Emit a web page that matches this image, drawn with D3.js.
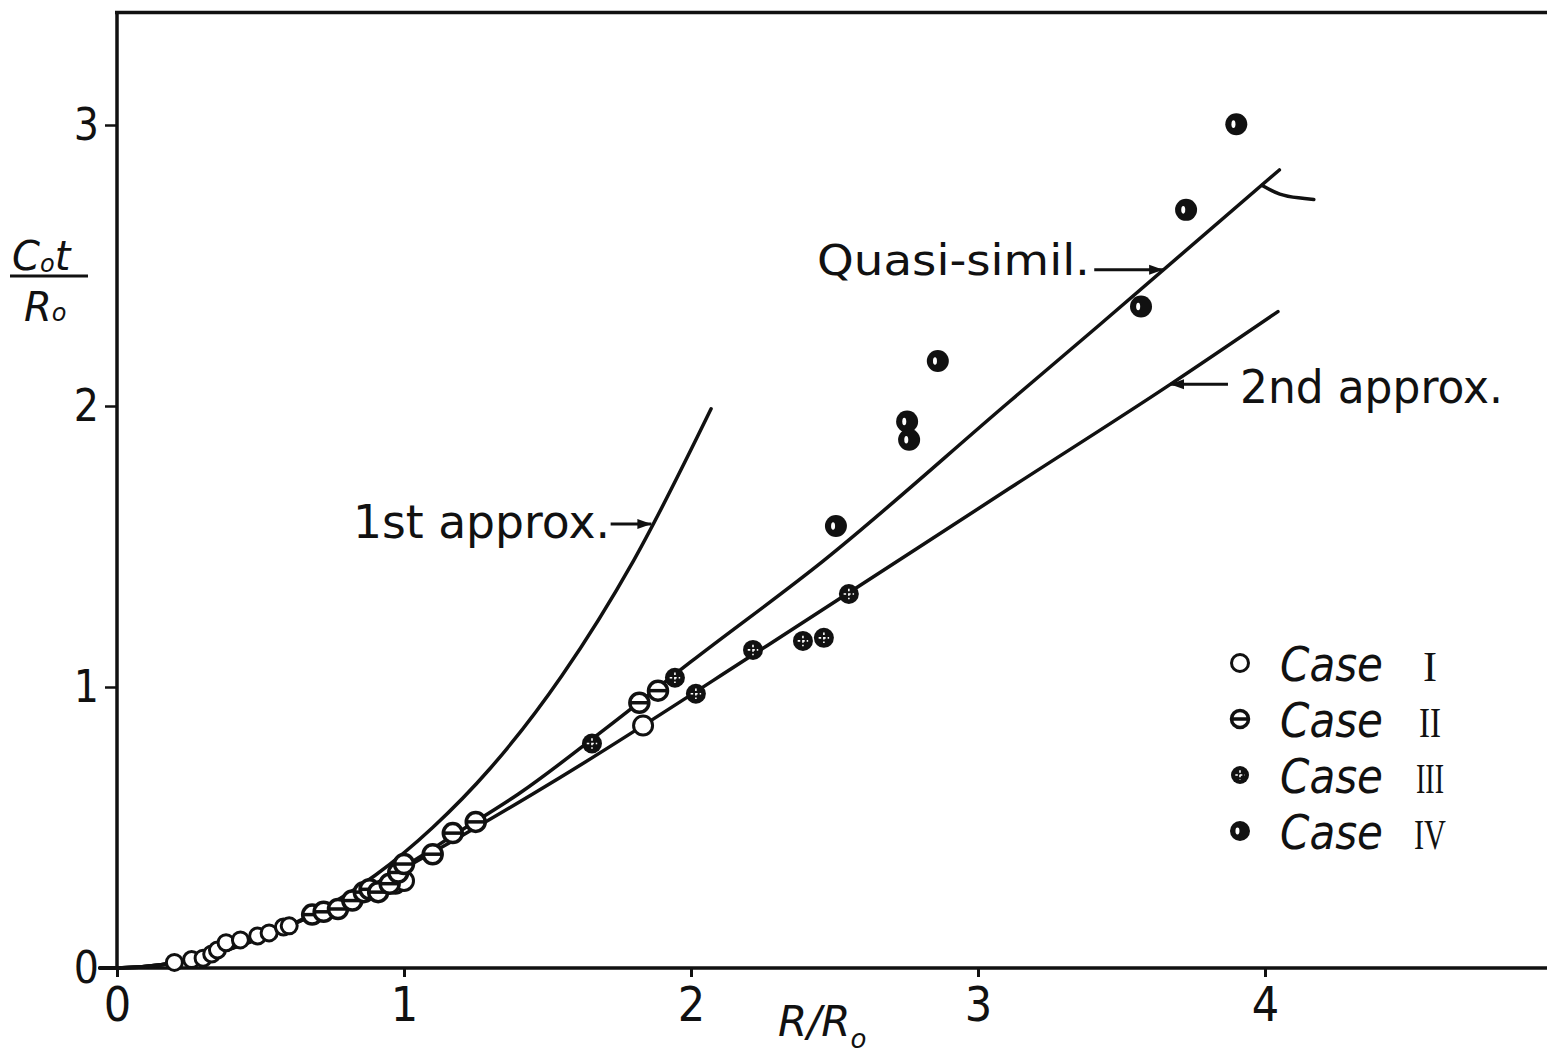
<!DOCTYPE html>
<html><head><meta charset="utf-8">
<script src="https://cdn.jsdelivr.net/npm/d3@7"></script>
<style>body{margin:0;background:#fff} svg{display:block}</style>
</head><body><svg id="c" width="1547" height="1057"></svg>
<script>
// ---- data ----
const xTickValues = [0, 1, 2, 3, 4];
const yTickValues = [0, 1, 2, 3];
const xTickLabels = ["0", "1", "2", "3", "4"];
const yTickLabels = ["0", "1", "2", "3"];

const caseI = [[0.20,0.02],[0.26,0.03],[0.30,0.035],[0.33,0.05],[0.35,0.064],[0.38,0.09],
  [0.43,0.10],[0.49,0.114],[0.53,0.125],[0.58,0.146],[0.60,0.15],[0.97,0.30],[1.00,0.31],[1.833,0.863]];
const caseII = [[0.68,0.19],[0.72,0.20],[0.77,0.21],[0.82,0.24],[0.86,0.27],[0.88,0.28],[0.91,0.27],
  [0.95,0.30],[0.98,0.34],[1.00,0.37],[1.10,0.405],[1.17,0.48],[1.25,0.52],[1.82,0.944],[1.885,0.987]];
const caseIII = [[1.655,0.799],[1.944,1.033],[2.017,0.976],[2.216,1.132],[2.39,1.164],[2.463,1.175],[2.55,1.331]];
const caseIV = [[2.505,1.573],[2.753,1.945],[2.76,1.88],[2.86,2.16],[3.568,2.354],[3.725,2.698],[3.90,3.003]];

const firstApprox = [[-0.06,0],[0,0],[0.3,0.04],[0.6,0.15],[0.9,0.33],[1.1,0.5],[1.3,0.71],[1.55,1.04],[1.8,1.45],[2.07,1.99]];
const quasiSimil = [[-0.06,0],[0,0],[0.3,0.04],[0.6,0.15],[0.9,0.30],[1.2,0.49],[1.4,0.62],[1.7,0.85],[2.0,1.09],[2.46,1.448],[3.11,2.016],[3.425,2.29],[4.05,2.84]];
const secondApprox = [[-0.06,0],[0,0],[0.3,0.04],[0.6,0.15],[0.9,0.30],[1.2,0.47],[1.544,0.678],[2.265,1.147],[3.11,1.707],[3.67,2.077],[4.045,2.336]];

const caseNames = ["Case", "Case", "Case", "Case"];
const caseNumerals = ["I", "II", "III", "IV"];

// ---- layout ----
const svg = d3.select("#c");
const x = d3.scaleLinear().domain([0, 4]).range([117, 1265]);
const y = d3.scaleLinear().domain([0, 3]).range([968, 125]);
const xMax = 4.99, yMax = 3.40;
const ink = "#111";
const numFont = "'Liberation Sans Narrow','DejaVu Sans Condensed','DejaVu Sans',sans-serif";
const txtFont = "'DejaVu Sans','Noto Sans',sans-serif";

// frame
const frame = svg.append("g").attr("stroke", ink).attr("stroke-width", 3.5).attr("fill", "none");
frame.append("line").attr("x1", x(0)).attr("x2", x(0)).attr("y1", y(0)).attr("y2", y(yMax) - 1);
frame.append("line").attr("x1", x(0) - 2).attr("x2", x(xMax)).attr("y1", y(yMax)).attr("y2", y(yMax));

// axes
const xAxis = d3.axisBottom(x).tickValues(xTickValues).tickFormat((d, i) => xTickLabels[i])
  .tickSizeInner(9).tickSizeOuter(0).tickPadding(10);
const gx = svg.append("g").attr("transform", `translate(0,${y(0)})`).call(xAxis);
gx.select(".domain").remove();
gx.selectAll(".tick line").attr("stroke", ink).attr("stroke-width", 3);
gx.selectAll(".tick text").attr("font-family", numFont).attr("font-stretch", "condensed")
  .attr("font-size", 48).attr("fill", ink);
svg.append("line").attr("x1", x(-0.06)).attr("x2", x(xMax)).attr("y1", y(0)).attr("y2", y(0))
  .attr("stroke", ink).attr("stroke-width", 3.5);

const yAxis = d3.axisLeft(y).tickValues(yTickValues).tickFormat((d, i) => yTickLabels[i])
  .tickSizeInner(12).tickSizeOuter(0).tickPadding(6);
const gy = svg.append("g").attr("transform", `translate(${x(0)},0)`).call(yAxis);
gy.select(".domain").remove();
gy.selectAll(".tick line").attr("stroke", ink).attr("stroke-width", 2.5);
gy.selectAll(".tick text").attr("font-family", numFont).attr("font-stretch", "condensed")
  .attr("font-size", 44).attr("fill", ink);

// axis titles
const yl = svg.append("g").attr("font-family", txtFont).attr("font-style", "italic").attr("fill", ink);
const t1 = yl.append("text").attr("x", 12).attr("y", 270).attr("font-size", 40);
t1.append("tspan").text("C");
t1.append("tspan").attr("font-size", 24).attr("dy", 2).text("o");
t1.append("tspan").attr("dy", -2).text("t");
yl.append("line").attr("x1", 10).attr("x2", 88).attr("y1", 276).attr("y2", 276).attr("stroke", ink).attr("stroke-width", 3);
const t2 = yl.append("text").attr("x", 24).attr("y", 321).attr("font-size", 40);
t2.append("tspan").text("R");
t2.append("tspan").attr("font-size", 24).text("o");

const xl = svg.append("text").attr("x", 778).attr("y", 1036).attr("font-family", txtFont)
  .attr("font-style", "italic").attr("font-size", 42).attr("fill", ink);
xl.append("tspan").text("R/R");
xl.append("tspan").attr("font-size", 26).attr("dy", 12).text("o");

// curves
const line = d3.line().x(d => x(d[0])).y(d => y(d[1])).curve(d3.curveMonotoneX);
const curves = svg.append("g").attr("fill", "none").attr("stroke", ink).attr("stroke-width", 3.5).attr("stroke-linecap", "round");
curves.append("path").attr("d", line(firstApprox));
curves.append("path").attr("d", line(quasiSimil));
curves.append("path").attr("d", line(secondApprox));

// annotations (data units)
const annotations = [
  {text: "1st approx.", tx: 0.822, ty: 1.53, len: 257, size: 46, ax0: 1.72, ax1: 1.862, ay: 1.58},
  {text: "Quasi-simil.", tx: 2.439, ty: 2.467, len: 273, size: 42, ax0: 3.405, ax1: 3.645, ay: 2.485},
  {text: "2nd approx.", tx: 3.913, ty: 2.009, len: 263, size: 46, ax0: 3.871, ax1: 3.669, ay: 2.077}
];
const ann = svg.append("g");
annotations.forEach(a => {
  ann.append("text").attr("x", x(a.tx)).attr("y", y(a.ty)).attr("font-family", txtFont)
    .attr("font-size", a.size).attr("fill", ink).attr("textLength", a.len)
    .attr("lengthAdjust", "spacingAndGlyphs").text(a.text);
  const X0 = x(a.ax0), X1 = x(a.ax1), Y = y(a.ay);
  ann.append("line").attr("x1", X0).attr("x2", X1).attr("y1", Y).attr("y2", Y)
    .attr("stroke", ink).attr("stroke-width", 3);
  const dir = Math.sign(X1 - X0);
  ann.append("path").attr("d", `M${X1},${Y} L${X1 - dir * 14},${Y - 5} L${X1 - dir * 14},${Y + 5} Z`).attr("fill", ink);
});
// top-right pointer (label cut off in the original)
const ptr = [[3.99, 2.785], [4.05, 2.75], [4.12, 2.74], [4.17, 2.735]];
svg.append("path").attr("d", d3.line().x(d => x(d[0])).y(d => y(d[1])).curve(d3.curveBasis)(ptr))
  .attr("fill", "none").attr("stroke", ink).attr("stroke-width", 3.5).attr("stroke-linecap", "round");

// markers
function marker(g, type, r) {
  if (type === 0) {
    g.append("circle").attr("r", r).attr("fill", "#fff").attr("stroke", ink).attr("stroke-width", 3);
  } else if (type === 1) {
    g.append("circle").attr("r", r).attr("fill", "#fff").attr("stroke", ink).attr("stroke-width", 3.5);
    g.append("line").attr("x1", -r).attr("x2", r).attr("y1", 0).attr("y2", 0).attr("stroke", ink).attr("stroke-width", 3.5);
  } else if (type === 2) {
    g.append("circle").attr("r", r + 0.5).attr("fill", ink);
    g.append("path").attr("d", `M${-r * 0.55},0H${r * 0.55}M0,${-r * 0.55}V${r * 0.55}`)
      .attr("stroke", "#fff").attr("stroke-width", 1.6).attr("stroke-dasharray", "2.5,2");
  } else {
    g.append("circle").attr("r", r + 1.5).attr("fill", ink);
    g.append("ellipse").attr("cx", -r * 0.3).attr("cy", 0).attr("rx", 2).attr("ry", r * 0.4).attr("fill", "#fff");
  }
}
const series = [caseI, caseII, caseIII, caseIV];
const pts = svg.append("g");
series.forEach((s, k) => {
  s.forEach(d => {
    const r = (k === 0 && d[0] < 0.7) ? 8 : 9.5;
    marker(pts.append("g").attr("transform", `translate(${x(d[0])},${y(d[1])})`), k, r);
  });
});

// legend
const numeralWidths = [0, 22, 28, 32];
const lg = svg.append("g").attr("transform", "translate(1240,663)");
caseNumerals.forEach((n, i) => {
  const row = lg.append("g").attr("transform", `translate(0,${i * 56})`);
  marker(row, i, 8.5);
  row.append("text").attr("x", 40).attr("y", 18).attr("font-family", txtFont).attr("font-style", "italic")
    .attr("font-size", 48).attr("fill", ink).attr("textLength", 103).attr("lengthAdjust", "spacingAndGlyphs")
    .text(caseNames[i]);
  const nt = row.append("text").attr("x", 190 - (numeralWidths[i] / 2)).attr("y", 18)
    .attr("font-family", "'Liberation Serif','DejaVu Serif',serif")
    .attr("font-size", 42).attr("fill", ink).text(n);
  if (numeralWidths[i] > 0) nt.attr("textLength", numeralWidths[i]).attr("lengthAdjust", "spacingAndGlyphs");
  else nt.attr("x", 190).attr("text-anchor", "middle");
});
</script></body></html>
